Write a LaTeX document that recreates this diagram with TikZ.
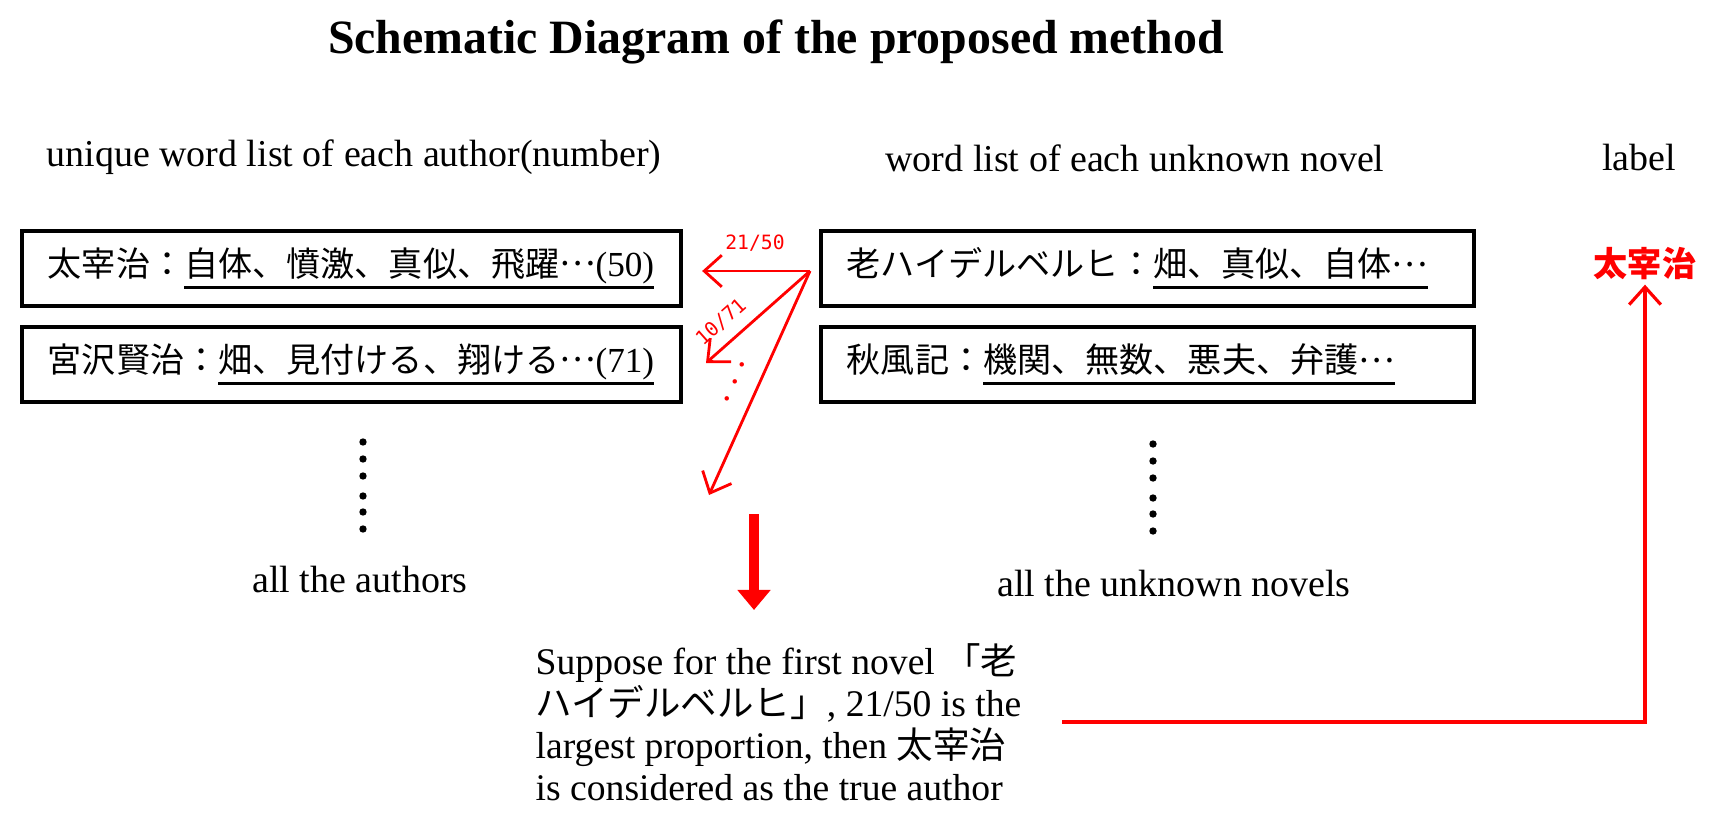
\documentclass[tikz,border=0pt]{standalone}
\usepackage{fontspec}
\setmainfont{Liberation Serif}
\newfontfamily\jpfont[Scale=0.97]{Noto Sans CJK JP}
\newfontfamily\numfont{DejaVu Sans Mono}
\usetikzlibrary{arrows.meta}
\newcommand{\ja}[1]{{\jpfont #1}}
\newcommand{\jdots}{\raisebox{0.3em}{\jpfont …}}
\newsavebox{\ulbox}
\newcommand{\uln}[1]{\sbox{\ulbox}{#1}\makebox[0pt][l]{\rule[-3.6pt]{\wd\ulbox}{1pt}}\usebox{\ulbox}}
\tikzset{
	wordbox/.style={draw, line width=1.1pt, minimum height=0.75cm, inner xsep=0.26cm, text width=#1, align=left},
	head/.style={font=\fontsize{10.8}{13}\selectfont},
	ratio/.style={text=red, font=\numfont\fontsize{5.6}{7}\selectfont, inner sep=1pt},
	pick/.style={->, red, line width=0.8pt, >={Straight Barb[length=5pt,width=9pt]}},
}
\begin{document}
\begin{tikzpicture}[x=0.01cm, y=-0.01cm]
	\useasboundingbox (0,0) rectangle (1723,815);
	\node[font=\bfseries\fontsize{13.6}{16}\selectfont] (title) at (776,42) {Schematic Diagram of the proposed method};
	% column heads
	\node[head] (hauth) at (354,157) {unique word list of each author(number)};
	\node[head] (hnov) at (1135,158) {word list of each unknown novel};
	\node[head] (hlab) at (1639,158) {label};
	% word lists
	\node[wordbox=6.07cm] (a1) at (351.5,268.5) {\ja{太宰治：}\uln{\ja{自体、憤激、真似、飛躍}\jdots(50)}};
	\node[wordbox=6.07cm] (a2) at (351.5,364.5) {\ja{宮沢賢治：}\uln{\ja{畑、見付ける、翔ける}\jdots(71)}};
	\node[wordbox=6.01cm] (b1) at (1147.5,268.5) {\ja{老ハイデルベルヒ：}\uln{\ja{畑、真似、自体}\jdots}};
	\node[wordbox=6.01cm] (b2) at (1147.5,364.5) {\ja{秋風記：}\uln{\ja{機関、無数、悪夫、弁護}\jdots}};
	\foreach \y in {442,459,476,496,512,529} {
			\fill (363,\y) circle[radius=0.037cm];
			\fill (1153,\y+2) circle[radius=0.037cm];
		}
	\node[head] (allauth) at (360,580) {all the authors};
	\node[head] (allnov) at (1174,584) {all the unknown novels};
	% proportions
	\coordinate (src) at (810,271);
	\coordinate (more) at (709,495);
	\draw[pick] (src) -- ([xshift=0.19cm]a1.east |- src);
	\draw[pick] (src) -- (706,363);
	\draw[pick] (src) -- (more);
	\node[ratio] (r1) at (755,243) {21/50};
	\node[ratio, rotate=41.5] (r2) at (721,322) {10/71};
	\node[ratio, rotate=66, font=\fontsize{12}{12}\selectfont] (r3) at (736,382) {$\cdots$};
	% result
	\coordinate (down1) at (754,514);
	\coordinate (down2) at (754,610);
	\draw[red, line width=3.1pt, -{Triangle[length=0.2cm,width=0.32cm]}] (down1) -- (down2);
	\node[anchor=west, inner sep=0pt, align=left, font=\fontsize{10.7}{11.9}\selectfont] (txt) at (535,722) {Suppose for the first novel \ja{「老}\\\ja{ハイデルベルヒ」}, 21/50 is the\\largest proportion, then \ja{太宰治}\\is considered as the true author};
	\node[text=red, font=\jpfont\bfseries\fontsize{10}{12}\selectfont] (lbl) at (1645,264) {太宰治};
	\draw[->, red, line width=0.9pt, >={Straight Barb[length=5pt,width=9pt]}] ([xshift=0.4cm]txt.east) -| ([yshift=0.08cm]lbl.south);
\end{tikzpicture}
\end{document}
